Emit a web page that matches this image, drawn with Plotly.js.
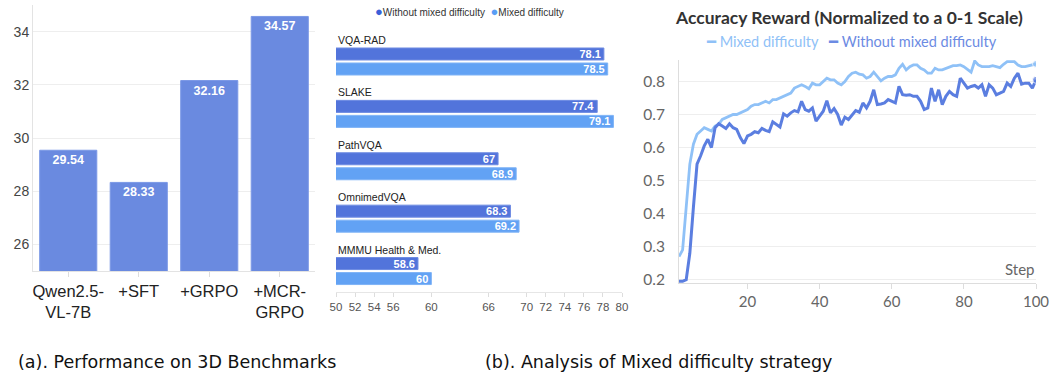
<!DOCTYPE html>
<html>
<head>
<meta charset="utf-8">
<script src="https://cdn.plot.ly/plotly-3.0.1.min.js"></script>
<style>html,body{margin:0;padding:0;background:#fff;}#chart{width:1051px;height:376px;}</style>
</head>
<body>
<div id="chart"></div>
<script>
// ---------- Panel (a): Performance on 3D Benchmarks ----------
const aCategories = ['Qwen2.5-<br>VL-7B', '+SFT', '+GRPO', '+MCR-<br>GRPO'];
const aScores = [29.54, 28.33, 32.16, 34.57];
const aTickVals = [26, 28, 30, 32, 34];

// ---------- Panel (b, left): medical benchmarks ----------
const bBenchmarks = ['VQA-RAD', 'SLAKE', 'PathVQA', 'OmnimedVQA', 'MMMU Health & Med.'];
const bWithout = [78.1, 77.4, 67, 68.3, 58.6];
const bMixed = [78.5, 79.1, 68.9, 69.2, 60];
const bTickVals = [50, 52, 54, 56, 60, 66, 70, 72, 74, 76, 78, 80];

// ---------- Panel (b, right): accuracy reward curves ----------
const cSteps = [1,2,3,4,5,6,7,8,9,10,11,12,13,14,15,16,17,18,19,20,
  21,22,23,24,25,26,27,28,29,30,31,32,33,34,35,36,37,38,39,40,
  41,42,43,44,45,46,47,48,49,50,51,52,53,54,55,56,57,58,59,60,
  61,62,63,64,65,66,67,68,69,70,71,72,73,74,75,76,77,78,79,80,
  81,82,83,84,85,86,87,88,89,90,91,92,93,94,95,96,97,98,99,100];
const cMixed = [0.27,0.29,0.42,0.55,0.61,0.64,0.65,0.66,0.655,0.65,
  0.665,0.67,0.685,0.69,0.695,0.70,0.70,0.705,0.71,0.715,
  0.725,0.73,0.73,0.735,0.74,0.735,0.745,0.745,0.75,0.755,
  0.76,0.765,0.78,0.785,0.79,0.785,0.778,0.795,0.79,0.79,
  0.80,0.81,0.805,0.805,0.795,0.79,0.80,0.815,0.825,0.828,
  0.822,0.82,0.81,0.815,0.828,0.815,0.802,0.81,0.815,0.815,
  0.82,0.84,0.852,0.835,0.845,0.85,0.85,0.84,0.835,0.825,
  0.825,0.84,0.835,0.835,0.84,0.845,0.848,0.848,0.85,0.845,
  0.835,0.828,0.862,0.85,0.845,0.845,0.845,0.848,0.845,0.842,
  0.852,0.86,0.86,0.86,0.85,0.845,0.845,0.848,0.85,0.853];
const cWithout = [0.195,0.195,0.20,0.28,0.42,0.55,0.575,0.605,0.625,0.60,
  0.66,0.672,0.665,0.658,0.672,0.66,0.655,0.63,0.612,0.635,
  0.64,0.648,0.645,0.658,0.652,0.648,0.678,0.67,0.662,0.702,
  0.695,0.705,0.712,0.708,0.74,0.715,0.71,0.72,0.68,0.695,
  0.71,0.742,0.705,0.718,0.70,0.668,0.692,0.685,0.70,0.712,
  0.707,0.735,0.72,0.74,0.775,0.73,0.732,0.735,0.745,0.74,
  0.735,0.785,0.76,0.758,0.76,0.755,0.755,0.74,0.715,0.72,
  0.78,0.74,0.775,0.73,0.755,0.77,0.76,0.755,0.81,0.795,
  0.78,0.785,0.788,0.78,0.79,0.755,0.79,0.78,0.76,0.765,
  0.77,0.795,0.785,0.81,0.825,0.792,0.795,0.795,0.78,0.805];
const cTickValsX = [20, 40, 60, 80, 100];
const cTickValsY = [0.2, 0.3, 0.4, 0.5, 0.6, 0.7, 0.8];

const W = 1051, H = 376;
const px = v => v / W;
const py = v => 1 - v / H;

const DARK = '#5274db', LIGHT = '#62a2f4';
const LINE_LIGHT = '#8fc1f7', LINE_DARK = '#5b7ee0';

const endMarker = arr => arr.map((v, i) => i === arr.length - 1 ? 7 : 0);

const traces = [
  {
    type: 'bar', x: aCategories, y: aScores, xaxis: 'x', yaxis: 'y',
    width: 0.81,
    marker: {color: '#6a8ae0', line: {color: '#7b98e6', width: 1}},
    texttemplate: '%{y:.2f}', textposition: 'inside', insidetextanchor: 'end', textangle: 0,
    constraintext: 'none',
    textfont: {family: 'Liberation Sans, Arial, sans-serif', size: 12.5, color: '#ffffff', weight: 'bold'},
    hoverinfo: 'skip'
  },
  {
    type: 'bar', orientation: 'h', y: bBenchmarks, x: bWithout, xaxis: 'x2', yaxis: 'y2',
    name: 'Without mixed difficulty',
    marker: {color: DARK, line: {color: '#6f8ce2', width: 1}},
    texttemplate: '%{x}', textposition: 'inside', insidetextanchor: 'end', textangle: 0,
    constraintext: 'none',
    textfont: {family: 'Liberation Sans, Arial, sans-serif', size: 11, color: '#ffffff', weight: 'bold'},
    hoverinfo: 'skip'
  },
  {
    type: 'bar', orientation: 'h', y: bBenchmarks, x: bMixed, xaxis: 'x2', yaxis: 'y2',
    name: 'Mixed difficulty',
    marker: {color: LIGHT, line: {color: '#7fb3f6', width: 1}},
    texttemplate: '%{x}', textposition: 'inside', insidetextanchor: 'end', textangle: 0,
    constraintext: 'none',
    textfont: {family: 'Liberation Sans, Arial, sans-serif', size: 11, color: '#ffffff', weight: 'bold'},
    hoverinfo: 'skip'
  },
  {
    type: 'scatter', mode: 'lines+markers', x: cSteps, y: cMixed, xaxis: 'x3', yaxis: 'y3',
    name: 'Mixed difficulty',
    line: {color: LINE_LIGHT, width: 2.8},
    marker: {color: LINE_LIGHT, size: endMarker(cMixed)},
    hoverinfo: 'skip'
  },
  {
    type: 'scatter', mode: 'lines+markers', x: cSteps, y: cWithout, xaxis: 'x3', yaxis: 'y3',
    name: 'Without mixed difficulty',
    line: {color: LINE_DARK, width: 3},
    marker: {color: LINE_DARK, size: endMarker(cWithout)},
    hoverinfo: 'skip'
  }
];

const annotations = [];
bBenchmarks.forEach(name => {
  annotations.push({
    xref: 'x2', yref: 'y2', x: 50, y: name, yshift: 21.5,
    text: name.replace('&', '&amp;'), showarrow: false, xanchor: 'left', yanchor: 'middle',
    font: {family: 'Liberation Sans, Arial, sans-serif', size: 10.5, color: '#222'}
  });
});
annotations.push({
  xref: 'paper', yref: 'paper', x: px(373), y: py(12), xanchor: 'left', yanchor: 'middle',
  showarrow: false,
  text: '<span style="color:#3a5fd8;font-size:13px">●</span>Without mixed difficulty  <span style="color:#5a9ef5;font-size:13px">●</span>Mixed difficulty',
  font: {family: 'Liberation Sans, Arial, sans-serif', size: 10, color: '#333'}
});
annotations.push({
  xref: 'paper', yref: 'paper', x: px(851), y: py(42), xanchor: 'center', yanchor: 'middle',
  showarrow: false,
  text: '<span style="color:' + LINE_LIGHT + '">━ Mixed difficulty</span>   <span style="color:#6c8be3">━ Without mixed difficulty</span>',
  font: {family: 'Lato, sans-serif', size: 14.5, color: '#666'}
});
annotations.push({
  xref: 'paper', yref: 'paper', x: px(849), y: py(18), xanchor: 'center', yanchor: 'middle',
  showarrow: false, text: '<b>Accuracy Reward (Normalized to a 0-1 Scale)</b>',
  font: {family: 'Lato, sans-serif', size: 17.5, color: '#333'}
});
annotations.push({
  xref: 'x3 domain', yref: 'y3 domain', x: 1, y: 0, xanchor: 'right', yanchor: 'bottom', yshift: 3,
  showarrow: false, text: 'Step',
  font: {family: 'Lato, sans-serif', size: 15, color: '#666'}
});
annotations.push({
  xref: 'paper', yref: 'paper', x: px(16), y: py(362), xanchor: 'left', yanchor: 'middle',
  showarrow: false, text: '(a). Performance on 3D Benchmarks',
  font: {family: 'DejaVu Sans, Verdana, sans-serif', size: 17.5, color: '#111'}
});
annotations.push({
  xref: 'paper', yref: 'paper', x: px(483), y: py(362), xanchor: 'left', yanchor: 'middle',
  showarrow: false, text: '(b). Analysis of Mixed difficulty strategy',
  font: {family: 'DejaVu Sans, Verdana, sans-serif', size: 17.5, color: '#111'}
});

const layout = {
  width: W, height: H,
  margin: {l: 0, r: 0, t: 0, b: 0},
  paper_bgcolor: '#ffffff', plot_bgcolor: '#ffffff',
  showlegend: false,
  barmode: 'group', bargap: 0.427, bargroupgap: 0.2,
  xaxis: {
    domain: [px(33), px(315)], anchor: 'y', type: 'category',
    ticks: 'outside', ticklen: 5, tickcolor: '#dddddd',
    showline: true, linecolor: '#e3e3e3', showgrid: false,
    tickfont: {family: 'Liberation Sans, Arial, sans-serif', size: 16.5, color: '#222'}
  },
  yaxis: {
    domain: [py(271), py(5)], anchor: 'x', range: [25, 35], tickvals: aTickVals,
    showgrid: true, gridcolor: '#eeeeee', zeroline: false,
    showline: true, linecolor: '#e3e3e3', ticks: '',
    tickfont: {family: 'Liberation Sans, Arial, sans-serif', size: 14, color: '#444'}
  },
  xaxis2: {
    domain: [px(336), px(622)], anchor: 'y2', range: [50, 80], tickvals: bTickVals,
    ticks: 'outside', ticklen: 4, tickcolor: '#dddddd',
    showline: true, linecolor: '#e6e6e6', showgrid: false, zeroline: false,
    tickfont: {family: 'Liberation Sans, Arial, sans-serif', size: 11.5, color: '#555'}
  },
  yaxis2: {
    domain: [py(292), py(35.3)], anchor: 'x2', type: 'category', range: [4.4, -0.5],
    showticklabels: false, showgrid: false, showline: false, zeroline: false, ticks: ''
  },
  xaxis3: {
    domain: [px(679), px(1036)], anchor: 'y3', range: [1, 100], tickvals: cTickValsX,
    ticks: 'outside', ticklen: 5, tickcolor: '#dddddd',
    showline: true, linecolor: '#dddddd', showgrid: false, zeroline: false,
    tickfont: {family: 'Lato, sans-serif', size: 15, color: '#666'}
  },
  yaxis3: {
    domain: [py(283), py(60)], anchor: 'x3', range: [0.19, 0.865], tickvals: cTickValsY,
    tickformat: '.1f',
    showgrid: true, gridcolor: '#eeeeee', zeroline: false,
    showline: true, linecolor: '#dddddd', ticks: '', ticklabelstandoff: 10,
    tickfont: {family: 'Lato, sans-serif', size: 15.5, color: '#666'}
  },
  annotations: annotations
};

Plotly.newPlot('chart', traces, layout, {staticPlot: true, displayModeBar: false});
</script>
</body>
</html>
